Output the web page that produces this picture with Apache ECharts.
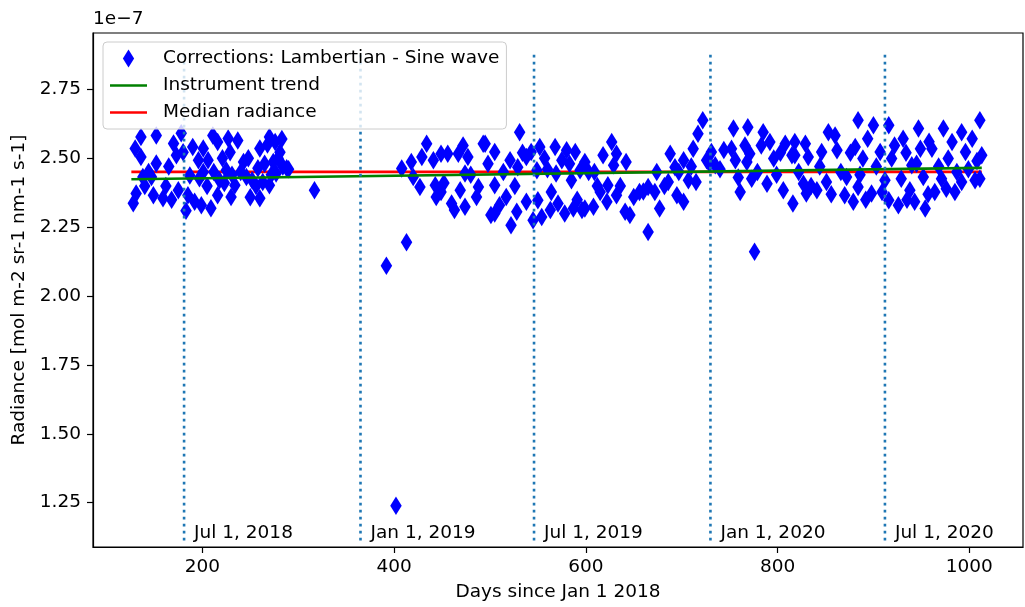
<!DOCTYPE html>
<html>
<head>
<meta charset="utf-8">
<script src="https://cdn.jsdelivr.net/npm/echarts@6/dist/echarts.min.js"></script>
<style>
  html, body { margin: 0; padding: 0; background: #fff; }
  #main { width: 1025px; height: 607px; }
</style>
</head>
<body>
<div id="main"></div>
<script>
// tick labels
var dayTicks = [200, 400, 600, 800, 1000];
var radTicks = [1.25, 1.50, 1.75, 2.00, 2.25, 2.50, 2.75];

// dotted date markers
var dateLineDays = [181, 365, 546, 730, 912];
var dateLineLabels = ['Jul 1, 2018', 'Jan 1, 2019', 'Jul 1, 2019', 'Jan 1, 2020', 'Jul 1, 2020'];

// radiance points (units of 1e-7), [day, value]
var corrections = [
  // 2018
  [136,2.577],[152,2.583],[130,2.536],[136,2.505],[138,2.432],[131,2.372],[128,2.337],[152,2.481],
  [147,2.432],[149,2.366],[159,2.355],[170,2.554],[173,2.511],[178,2.591],[180,2.522],[187,2.438],
  [175,2.384],[185,2.366],[190,2.541],[201,2.536],[196,2.493],[192,2.342],[197,2.428],[206,2.493],
  [211,2.583],[216,2.559],[209,2.319],[216,2.366],[218,2.420],[227,2.572],[229,2.522],[237,2.565],
  [225,2.457],[234,2.402],[243,2.487],[246,2.432],[250,2.359],[260,2.536],[258,2.464],[260,2.355],
  [263,2.414],[270,2.577],[276,2.559],[274,2.487],[270,2.402],[281,2.522],[288,2.464],[277,2.445],
  [317,2.384],
  [140,2.400],[144,2.450],[162,2.400],[165,2.470],[168,2.350],[183,2.310],[199,2.330],[205,2.400],
  [212,2.450],[221,2.500],[231,2.440],[240,2.450],[248,2.500],[252,2.420],[256,2.400],[265,2.480],
  [268,2.550],[272,2.440],[279,2.500],[284,2.470],[290,2.460],[283,2.570],[223,2.410],[230,2.360],
  [201,2.450],
  // 2019
  [392,2.110],[402,1.239],[413,2.195],[408,2.463],[418,2.487],[420,2.432],[427,2.396],[429,2.505],
  [434,2.553],[441,2.493],[443,2.402],[444,2.360],[449,2.517],[449,2.378],[456,2.517],[460,2.336],
  [467,2.517],[469,2.384],[472,2.547],[474,2.445],[477,2.505],[463,2.312],[474,2.324],[488,2.396],
  [486,2.360],[495,2.553],[505,2.523],[505,2.402],[505,2.300],[514,2.450],[517,2.360],[521,2.493],
  [522,2.257],[529,2.468],[531,2.595],[528,2.306],[538,2.505],[538,2.342],[543,2.523],[545,2.275],
  [549,2.457],[552,2.541],[550,2.348],[554,2.287],[564,2.378],[568,2.541],[563,2.312],[569,2.445],
  [571,2.336],[575,2.493],[580,2.529],[578,2.300],[585,2.420],[587,2.318],[589,2.523],[594,2.457],
  [596,2.312],[501,2.294],[493,2.553],
  [452,2.410],[480,2.440],[498,2.480],[510,2.330],[526,2.400],[534,2.520],[557,2.500],[560,2.460],
  [583,2.480],[591,2.350],
  [599,2.487],[599,2.318],[609,2.450],[608,2.324],[615,2.378],[618,2.511],[627,2.559],[632,2.517],
  [623,2.402],[622,2.342],[632,2.366],[629,2.475],[642,2.487],[641,2.306],[646,2.294],[656,2.378],
  [665,2.233],[665,2.396],[672,2.378],[674,2.450],[677,2.318],[686,2.414],[688,2.517],[695,2.366],
  [693,2.468],[702,2.342],[702,2.493],[707,2.420],[712,2.535],[715,2.414],[717,2.589],[722,2.638],
  [726,2.493],
  [603,2.450],[612,2.400],[636,2.400],[650,2.360],[660,2.380],[682,2.400],[697,2.450],[710,2.470],
  [729,2.480],
  // 2020
  [731,2.523],[735,2.475],[754,2.608],[752,2.535],[756,2.493],[761,2.378],[769,2.613],[766,2.547],
  [768,2.487],[771,2.517],[776,2.161],[785,2.595],[783,2.547],[789,2.408],[792,2.559],[796,2.499],
  [806,2.384],[808,2.553],[815,2.511],[773,2.426],
  [740,2.460],[744,2.530],[759,2.430],[779,2.450],[799,2.440],[803,2.520],
  [818,2.559],[818,2.511],[829,2.553],[832,2.505],[827,2.408],[816,2.336],[830,2.372],[841,2.384],
  [846,2.523],[853,2.595],[860,2.583],[862,2.529],[851,2.414],[872,2.432],[870,2.366],[879,2.342],
  [881,2.541],[884,2.638],[889,2.499],[884,2.396],[894,2.571],[900,2.620],[898,2.372],[907,2.523],
  [916,2.620],[909,2.378],[916,2.348],[919,2.499],[922,2.547],[931,2.571],[929,2.426],[926,2.330],
  [938,2.384],[940,2.475],[947,2.608],[949,2.535],[943,2.342],[952,2.432],[954,2.318],[961,2.535],
  [964,2.378],[973,2.608],[971,2.426],[978,2.499],[985,2.378],[982,2.559],[992,2.595],[996,2.523],
  [992,2.414],[1003,2.571],[1006,2.420],[1011,2.638],[1013,2.511],[1011,2.426],
  [822,2.450],[835,2.400],[844,2.470],[856,2.370],[866,2.450],[876,2.520],[886,2.440],[892,2.350],
  [903,2.470],[912,2.420],[935,2.350],[945,2.480],[957,2.370],[968,2.470],[976,2.390],[987,2.450],
  [999,2.460],[1008,2.490],[958,2.560],[934,2.520]
];

// fitted lines
var trendDays = [126, 1013];
var trendValues = [2.424, 2.465];
var medianValue = 2.451;

var FONT = 'DejaVu Sans';
var FS = 18.5;

var chart = echarts.init(document.getElementById('main'), null, { renderer: 'canvas' });

var series = [];
series.push({
  name: 'Corrections: Lambertian - Sine wave',
  type: 'scatter',
  symbol: 'diamond',
  symbolSize: [11.5, 18.5],
  itemStyle: { color: '#0000ff', opacity: 1 },
  data: corrections
});
series.push({
  name: 'Instrument trend',
  type: 'line',
  symbol: 'none',
  lineStyle: { color: '#008000', width: 2.7 },
  itemStyle: { color: '#008000' },
  data: trendDays.map(function (d, i) { return [d, trendValues[i]]; })
});
series.push({
  name: 'Median radiance',
  type: 'line',
  symbol: 'none',
  lineStyle: { color: '#ff0000', width: 2.7 },
  itemStyle: { color: '#ff0000' },
  z: 1.9,
  data: [[trendDays[0], medianValue], [trendDays[1], medianValue]]
});
dateLineDays.forEach(function (d) {
  series.push({
    type: 'line',
    symbol: 'none',
    silent: true,
    lineStyle: { color: '#1f77b4', width: 2.6, type: [2.6, 4.4] },
    data: [[d, 1.113], [d, 2.89]]
  });
});
series.push({
  type: 'scatter',
  symbolSize: 0,
  silent: true,
  itemStyle: { opacity: 1 },
  label: {
    show: true,
    position: 'right',
    distance: 10,
    color: '#000',
    fontFamily: FONT,
    fontSize: FS,
    formatter: function (p) { return dateLineLabels[p.dataIndex]; }
  },
  data: dateLineDays.map(function (d) { return [d, 1.139]; })
});

var lineIcon = 'path://M0,0L37,0L37,2.7L0,2.7Z';

var option = {
  animation: false,
  backgroundColor: '#fff',
  textStyle: { fontFamily: FONT },
  grid: {
    left: 93, right: 2, top: 33, bottom: 59,
    show: true, borderColor: '#000', borderWidth: 1.2, backgroundColor: 'transparent'
  },
  legend: {
    left: 103, top: 42,
    orient: 'vertical',
    padding: [7, 7, 7, 7],
    itemWidth: 37,
    itemHeight: 18,
    itemGap: 8,
    backgroundColor: 'rgba(255,255,255,0.8)',
    borderColor: '#cccccc',
    borderWidth: 1,
    borderRadius: 4,
    textStyle: { color: '#000', fontFamily: FONT, fontSize: FS, padding: [0, 0, 0, 11] },
    data: [
      { name: 'Corrections: Lambertian - Sine wave', icon: 'path://M5,0L10,8L5,16L0,8Z' },
      { name: 'Instrument trend', icon: lineIcon },
      { name: 'Median radiance', icon: lineIcon }
    ]
  },
  graphic: [{
    type: 'text', left: 93, top: 10,
    style: { text: '1e\u22127', fill: '#000', font: FS + 'px "DejaVu Sans"' }
  }],
  xAxis: {
    type: 'value',
    min: 86, max: 1056,
    name: 'Days since Jan 1 2018',
    nameLocation: 'middle',
    nameGap: 36,
    nameTextStyle: { color: '#000', fontFamily: FONT, fontSize: FS },
    splitLine: { show: false },
    axisLine: { show: true, onZero: false, lineStyle: { color: '#000', width: 1.2 } },
    axisTick: { show: true, length: 6, lineStyle: { color: '#000', width: 1.2 }, customValues: dayTicks },
    axisLabel: {
      color: '#000', fontFamily: FONT, fontSize: FS, margin: 11, customValues: dayTicks,
      formatter: function (v) { return String(v); }
    }
  },
  yAxis: {
    type: 'value',
    min: 1.089, max: 2.955,
    name: 'Radiance [mol m-2 sr-1 nm-1 s-1]',
    nameLocation: 'middle',
    nameGap: 60,
    nameTextStyle: { color: '#000', fontFamily: FONT, fontSize: FS },
    splitLine: { show: false },
    axisLine: { show: true, onZero: false, lineStyle: { color: '#000', width: 1.2 } },
    axisTick: { show: true, length: 6, lineStyle: { color: '#000', width: 1.2 }, customValues: radTicks },
    axisLabel: {
      color: '#000', fontFamily: FONT, fontSize: FS, margin: 12, customValues: radTicks,
      formatter: function (v) { return v.toFixed(2); }
    }
  },
  series: series
};

chart.setOption(option);
</script>
</body>
</html>
